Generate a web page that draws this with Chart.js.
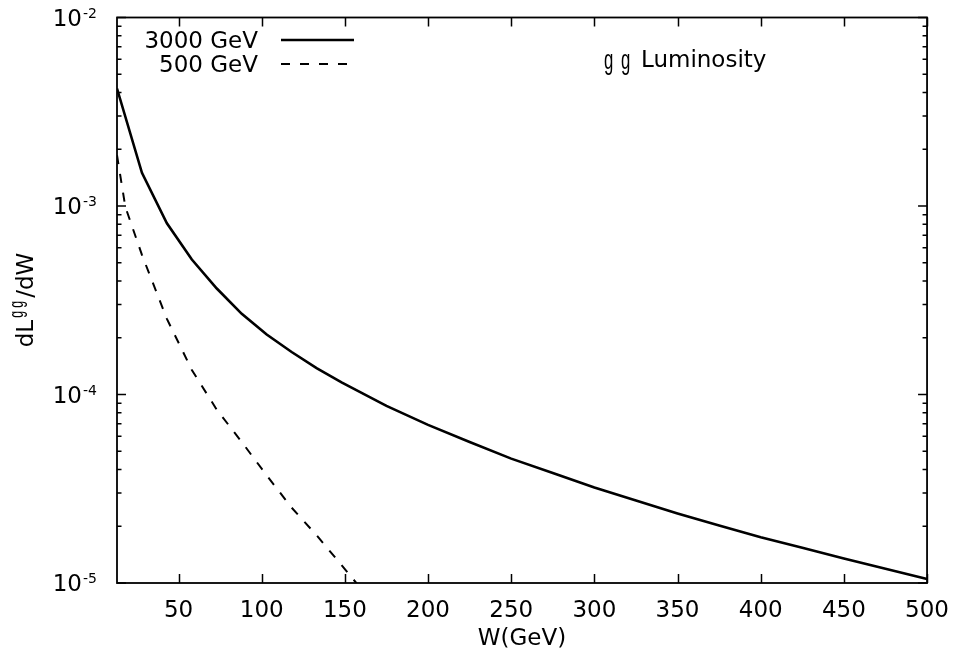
<!DOCTYPE html>
<html>
<head>
<meta charset="utf-8">
<script src="https://cdn.jsdelivr.net/npm/chart.js@4.4.0/dist/chart.umd.min.js"></script>
<style>
  html, body { margin: 0; padding: 0; background: #fff; }
</style>
</head>
<body>
<canvas id="myChart" width="963" height="669"></canvas>
<script>
// photon-photon luminosity
const seriesLabels = ["3000 GeV", "500 GeV"];
const w3000 = [13, 28, 43, 58, 73, 88, 103, 118, 133, 148, 175, 200, 225, 250, 275, 300, 325, 350, 375, 400, 425, 450, 475, 500];
const lum3000 = [4.2e-3, 1.5e-3, 8.1e-4, 5.2e-4, 3.65e-4, 2.68e-4, 2.08e-4, 1.68e-4, 1.38e-4, 1.16e-4, 8.7e-5, 6.9e-5, 5.6e-5, 4.57e-5, 3.83e-5, 3.21e-5, 2.74e-5, 2.34e-5, 2.02e-5, 1.75e-5, 1.54e-5, 1.35e-5, 1.19e-5, 1.05e-5];
const w500 = [13, 18, 28, 43, 58, 73, 88, 103, 118, 133, 148, 163];
const lum500 = [1.86e-3, 9.9e-4, 5.5e-4, 2.52e-4, 1.35e-4, 8.3e-5, 5.6e-5, 3.72e-5, 2.51e-5, 1.79e-5, 1.245e-5, 8.6e-6];

const xTicks = [50, 100, 150, 200, 250, 300, 350, 400, 450, 500];
const yTicks = [1e-5, 1e-4, 1e-3, 1e-2];
const yTickExps = ["-5", "-4", "-3", "-2"];

const FONT = '"DejaVu Sans", "Liberation Sans", sans-serif';

function toPoints(xs, ys) {
  return xs.map((x, i) => ({ x: x, y: ys[i] }));
}

// narrow "g" glyph like the one in the original
function narrowG(ctx, x, y, size) {
  ctx.save();
  ctx.translate(x, y);
  ctx.scale(0.62, 1);
  ctx.font = size + "px \"Liberation Sans\", sans-serif";
  ctx.textAlign = "left";
  ctx.fillText("g", 0, 0);
  ctx.restore();
}

// gnuplot style frame, ticks, labels, key
const gnuplotFrame = {
  id: "gnuplotFrame",
  afterDraw(chart) {
    const ctx = chart.ctx;
    const a = chart.chartArea;
    const xs = chart.scales.x;
    const ys = chart.scales.y;
    ctx.save();
    ctx.strokeStyle = "#000";
    ctx.fillStyle = "#000";
    ctx.lineWidth = 1.8;
    ctx.strokeRect(a.left, a.top, a.right - a.left, a.bottom - a.top);

    ctx.lineWidth = 1.5;
    ctx.beginPath();
    xTicks.forEach(v => {
      const px = Math.round(xs.getPixelForValue(v)) + 0.5;
      ctx.moveTo(px, a.bottom); ctx.lineTo(px, a.bottom - 9);
      ctx.moveTo(px, a.top); ctx.lineTo(px, a.top + 9);
    });
    yTicks.forEach((v, i) => {
      const py = ys.getPixelForValue(v);
      ctx.moveTo(a.left, py); ctx.lineTo(a.left + 9, py);
      ctx.moveTo(a.right, py); ctx.lineTo(a.right - 9, py);
      if (i < yTicks.length - 1) {
        for (let m = 2; m <= 9; m++) {
          const pm = ys.getPixelForValue(v * m);
          ctx.moveTo(a.left, pm); ctx.lineTo(a.left + 4.5, pm);
          ctx.moveTo(a.right, pm); ctx.lineTo(a.right - 4.5, pm);
        }
      }
    });
    ctx.stroke();

    // y tick labels 10^n
    ctx.textBaseline = "alphabetic";
    yTicks.forEach((v, i) => {
      const py = ys.getPixelForValue(v);
      ctx.font = "23px " + FONT;
      ctx.textAlign = "right";
      ctx.fillText("10", 82, py + 8);
      ctx.font = "14px " + FONT;
      ctx.textAlign = "left";
      ctx.fillText(yTickExps[i], 83, py);
    });

    // y axis title: dL^{gg}/dW
    ctx.save();
    ctx.translate(33, 300);
    ctx.rotate(-Math.PI / 2);
    ctx.font = "23px " + FONT;
    const w1 = ctx.measureText("dL").width;
    const w3 = ctx.measureText("/dW").width;
    const w2 = 22;
    let sx = -(w1 + w2 + w3) / 2;
    ctx.textAlign = "left";
    ctx.fillText("dL", sx, 0);
    narrowG(ctx, sx + w1 + 2, -10, 20);
    narrowG(ctx, sx + w1 + 12, -10, 20);
    ctx.font = "23px " + FONT;
    ctx.fillText("/dW", sx + w1 + w2, 0);
    ctx.restore();

    // key
    chart.data.datasets.forEach((ds, i) => {
      const base = 48 + i * 24;
      ctx.font = "23px " + FONT;
      ctx.textAlign = "right";
      ctx.fillText(ds.label, 258, base);
      ctx.save();
      ctx.lineWidth = ds.borderWidth;
      ctx.setLineDash(ds.borderDash || []);
      ctx.beginPath();
      ctx.moveTo(281, base - 8);
      ctx.lineTo(354, base - 8);
      ctx.stroke();
      ctx.restore();
    });

    // label
    narrowG(ctx, 604, 69, 27);
    narrowG(ctx, 621, 69, 27);
    ctx.textAlign = "left";
    ctx.font = "23px " + FONT;
    ctx.fillText("Luminosity", 641, 67);
    ctx.restore();
  }
};

const ctx = document.getElementById("myChart");
new Chart(ctx, {
  type: "line",
  data: {
    datasets: [
      {
        label: seriesLabels[0],
        data: toPoints(w3000, lum3000),
        borderColor: "#000",
        borderWidth: 2.6,
        pointRadius: 0,
        tension: 0,
        fill: false,
      },
      {
        label: seriesLabels[1],
        data: toPoints(w500, lum500),
        borderColor: "#000",
        borderWidth: 2,
        borderDash: [9, 10],
        pointRadius: 0,
        tension: 0,
        fill: false,
      },
    ],
  },
  options: {
    responsive: false,
    animation: false,
    devicePixelRatio: 1,
    layout: { padding: { left: 0, right: 34, top: 17.5, bottom: 0 } },
    plugins: {
      legend: { display: false },
      tooltip: { enabled: false },
    },
    scales: {
      x: {
        type: "linear",
        min: 13,
        max: 500,
        afterBuildTicks: (scale) => {
          scale.ticks = xTicks.map(v => ({ value: v }));
        },
        afterFit: (scale) => { scale.height = 86; },
        grid: { display: false, drawTicks: false },
        border: { display: false },
        ticks: {
          color: "#000",
          padding: 14,
          maxRotation: 0,
          font: { family: FONT, size: 23 },
        },
        title: {
          display: true,
          text: "W(GeV)",
          color: "#000",
          font: { family: FONT, size: 23 },
          padding: { top: 0, bottom: 16 },
        },
      },
      y: {
        type: "logarithmic",
        min: 1e-5,
        max: 1e-2,
        afterFit: (scale) => { scale.width = 117; },
        grid: { display: false, drawTicks: false },
        border: { display: false },
        ticks: { display: false },
      },
    },
  },
  plugins: [gnuplotFrame],
});
</script>
</body>
</html>
